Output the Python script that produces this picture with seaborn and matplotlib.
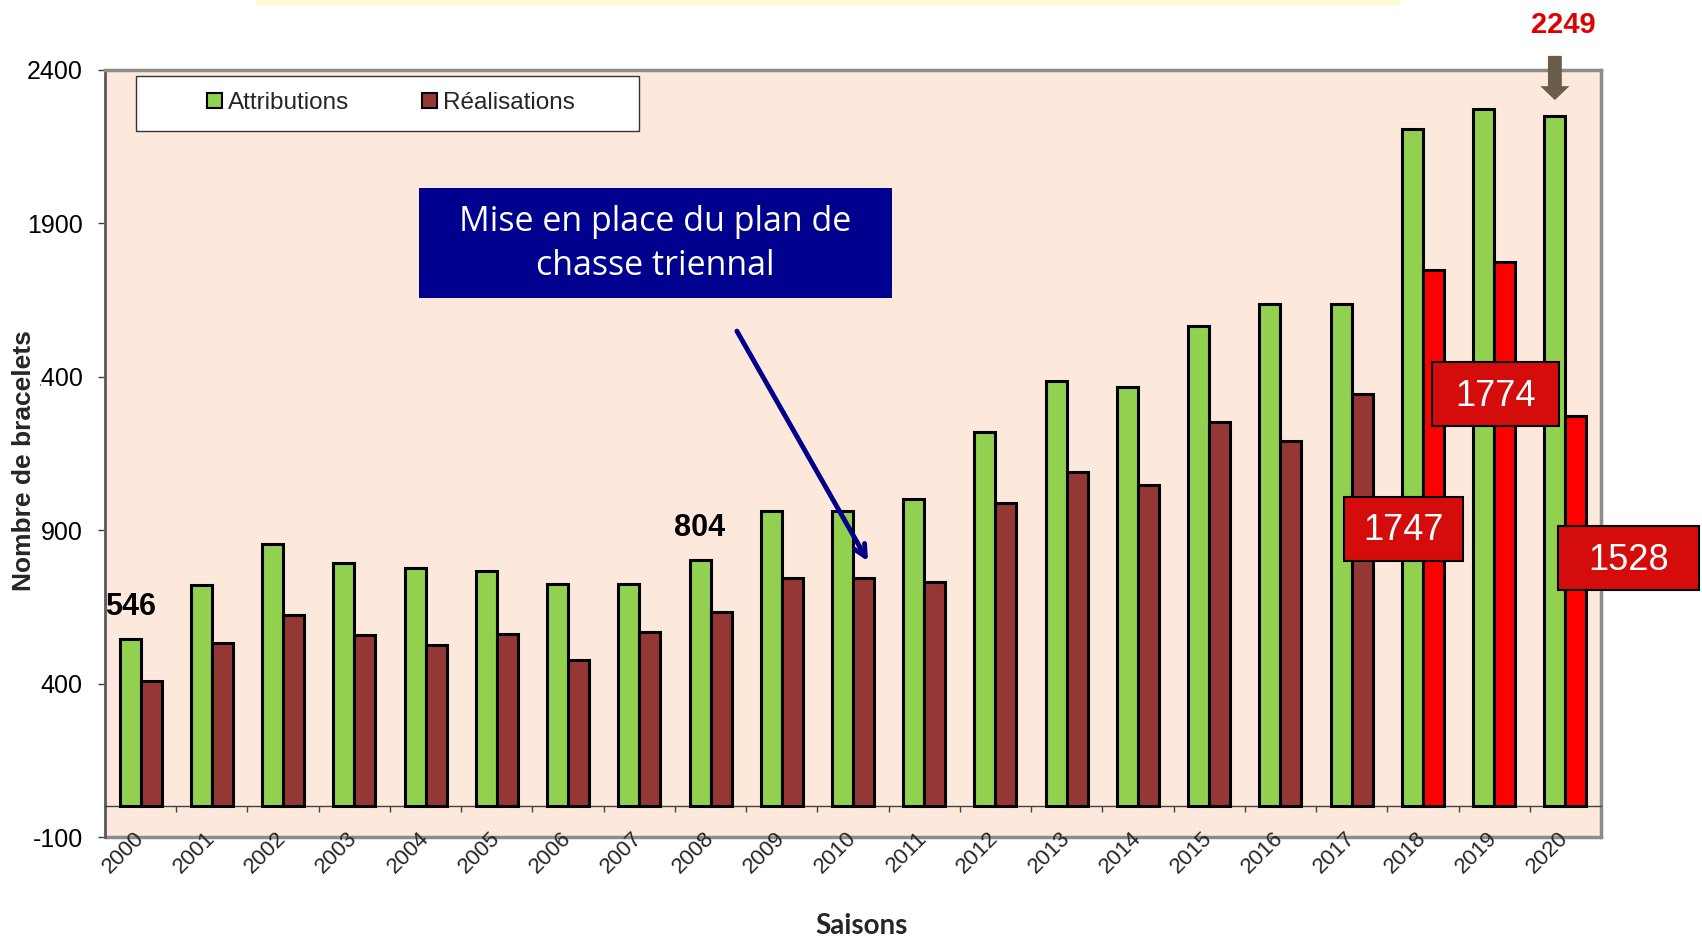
import numpy as np
import pandas as pd
import matplotlib
matplotlib.use("Agg")
import matplotlib.pyplot as plt
import seaborn as sns
from matplotlib.patches import Rectangle, Patch

# ---------------- data ----------------
saisons = [str(y) for y in range(2000, 2021)]
attributions = [546, 723, 855, 793, 776, 766, 725, 725, 804, 963, 963, 1001,
                1220, 1387, 1366, 1567, 1636, 1636, 2207, 2274, 2249]
realisations = [408, 532, 623, 557, 527, 562, 478, 567, 632, 743, 745, 731,
                990, 1089, 1048, 1253, 1191, 1343, 1747, 1774, 1273]
series_names = ["Attributions", "Réalisations"]
y_ticks = [-100, 400, 900, 1400, 1900, 2400]
box_labels = ["1747", "1774", "1528"]   # red callouts (2018, 2019, 2020)
value_labels = {0: "546", 8: "804"}
top_label = "2249"

GREEN = "#92D050"
DARKRED = "#953735"
RED = "#FF0000"
BG = "#FDE9DB"

sns.set_theme(style="white")
plt.rcParams["font.family"] = ["Liberation Sans", "DejaVu Sans"]

W, H = 1702, 938
fig = plt.figure(figsize=(W / 100, H / 100), dpi=100)
fig.patch.set_facecolor("white")

def fx(px):
    return px / W

def fy(py):
    return 1 - py / H

ax = fig.add_axes([fx(105), fy(837), fx(1601) - fx(105), fy(70) - fy(837)])
ax.set_facecolor(BG)

df = pd.DataFrame({
    "Saison": saisons * 2,
    "Valeur": attributions + realisations,
    "Série": [series_names[0]] * len(saisons) + [series_names[1]] * len(saisons),
})
sns.barplot(data=df, x="Saison", y="Valeur", hue="Série", order=saisons,
            hue_order=series_names, palette=[GREEN, DARKRED], saturation=1,
            width=0.59, edgecolor="black", linewidth=2.2, errorbar=None,
            legend=False, ax=ax, zorder=3)

# last three realisations in bright red
for p in ax.containers[1].patches[-3:]:
    p.set_facecolor(RED)

ax.set_xlim(-0.5, len(saisons) - 0.5)
ax.set_ylim(-100, 2400)
ax.set_xlabel("")
ax.set_ylabel("")

# spines
ax.spines["bottom"].set_position(("data", 0))
ax.spines["bottom"].set_color("#404040")
ax.spines["bottom"].set_linewidth(1.0)
ax.spines["left"].set_color("#595959")
ax.spines["left"].set_linewidth(2)
for s in ("top", "right"):
    ax.spines[s].set_visible(True)
    ax.spines[s].set_color("#8C8C8C")
    ax.spines[s].set_linewidth(2.5)
ax.axhline(-100, color="#8C8C8C", lw=2.5, clip_on=False, zorder=0.8)
ax.xaxis.set_zorder(4)

# y ticks
ax.set_yticks(y_ticks)
ax.set_yticklabels([str(v) for v in y_ticks])
ax.tick_params(axis="y", which="major", direction="out", length=5, width=1,
               color="#404040", pad=11, labelsize=18, labelcolor="black", left=True)

# x ticks: labels at categories, small ticks at boundaries
ax.set_xticks(range(len(saisons)))
ax.set_xticklabels(saisons, rotation=45, ha="right", va="center",
                   rotation_mode="anchor")
ax.set_xticks(np.arange(0.5, len(saisons) - 1, 1), minor=True)
ax.tick_params(axis="x", which="major", length=0, pad=21, labelsize=16,
               bottom=True)
ax.tick_params(axis="x", which="minor", direction="out", length=4.5, width=1,
               color="#404040", bottom=True)

# axis titles
fig.text(fx(24), fy(461), "Nombre de bracelets", rotation=90, ha="center",
         va="center", fontsize=19, fontweight="bold",
         bbox=dict(facecolor="white", edgecolor="none", pad=3))
fig.text(fx(861), fy(926), "Saisons", ha="center", va="center", fontsize=20,
         fontweight="bold", family=["Lato", "DejaVu Sans"])

# legend
ax.add_patch(Rectangle((fx(136), fy(131)), fx(639) - fx(136), fy(76) - fy(131),
                       transform=fig.transFigure, facecolor="white",
                       edgecolor="#333333", lw=1, clip_on=False, zorder=6))
handles = [Patch(facecolor=GREEN, edgecolor="black", lw=1.5),
           Patch(facecolor=DARKRED, edgecolor="black", lw=1.5)]
leg = ax.legend(handles, series_names, loc="center",
                bbox_to_anchor=(fx(391), fy(103)), bbox_transform=fig.transFigure,
                ncol=2, frameon=False, fontsize=17.5, handlelength=0.6,
                handleheight=0.6, handletextpad=0.25, columnspacing=3.0)
leg.set_zorder(7)

# value labels above selected green bars
bw = 0.59 / 2
for i, txt in value_labels.items():
    ax.annotate(txt, xy=(i - bw / 2, attributions[i]), xytext=(0, 32),
                textcoords="offset pixels", ha="center", va="center",
                fontsize=22, fontweight="bold", color="black", zorder=8)

last = len(saisons) - 1
ax.annotate(top_label, xy=(last - bw / 2, attributions[last]), xytext=(8.5, 91),
            textcoords="offset pixels", ha="center", va="center", fontsize=21,
            fontweight="bold", color="#E00000", annotation_clip=False, zorder=8)
# brown block arrow pointing down at the 2020 attribution bar
ax.annotate("", xy=(last - bw / 2, attributions[last] + 53),
            xytext=(last - bw / 2, attributions[last] + 197),
            arrowprops=dict(arrowstyle="simple,head_length=1.0,head_width=2.1,tail_width=1.0",
                            mutation_scale=10, fc="#6B5D4B", ec="none",
                            shrinkA=0, shrinkB=0),
            annotation_clip=False, zorder=8)

# blue callout box
ax.add_patch(Rectangle((fx(419), fy(298)), fx(892) - fx(419), fy(188) - fy(298),
                       transform=fig.transFigure, facecolor="#00008F",
                       edgecolor="none", clip_on=False, zorder=9))
fig.text(fx(655.5), fy(244), "Mise en place du plan de\nchasse triennal",
         ha="center", va="center", fontsize=24.5, color="white",
         family=["Open Sans", "DejaVu Sans"], linespacing=1.4, zorder=10)
ax.annotate("", xy=(10.21, 799), xytext=(8.37, 1549),
            arrowprops=dict(arrowstyle="->,head_length=0.7,head_width=0.35",
                            color="#00008B", lw=3.5, shrinkA=0, shrinkB=0),
            zorder=9)

# red callouts
boxes = [(1344, 497, 1463, 561), (1432, 362, 1559, 426), (1558, 526, 1699, 590)]
for (x0, y0, x1, y1), txt in zip(boxes, box_labels):
    ax.add_patch(Rectangle((fx(x0), fy(y1)), fx(x1) - fx(x0), fy(y0) - fy(y1),
                           transform=fig.transFigure, facecolor="#D40C0C",
                           edgecolor="black", lw=1.5, clip_on=False, zorder=9))
    fig.text(fx((x0 + x1) / 2), fy((y0 + y1) / 2 + 2), txt, ha="center",
             va="center", fontsize=26, color="white", zorder=10)

# pale yellow strip at the very top
fig.add_artist(Rectangle((fx(256), fy(5)), fx(1400) - fx(256), fy(0) - fy(5),
                         transform=fig.transFigure, facecolor="#FFFBD0",
                         edgecolor="none"))

fig.savefig("out.png", dpi=100)
